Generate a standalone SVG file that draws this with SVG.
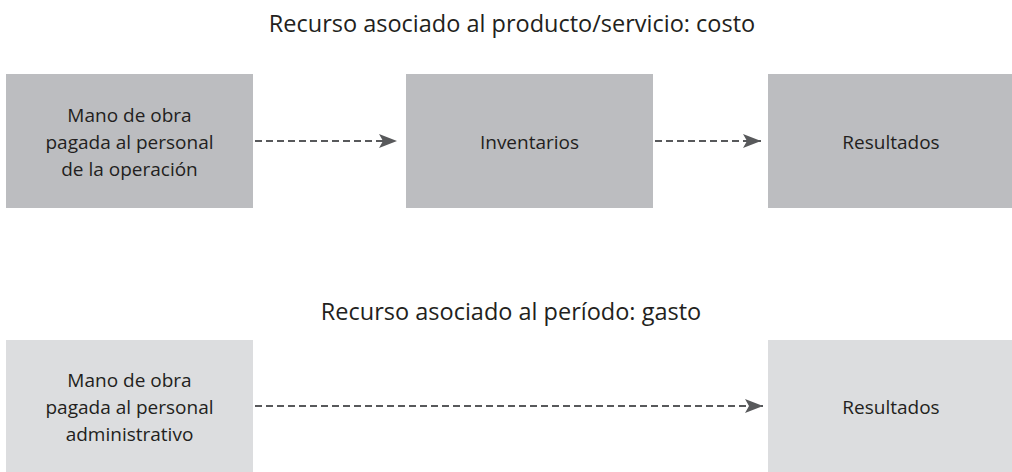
<svg xmlns="http://www.w3.org/2000/svg" width="1012" height="472" viewBox="0 0 1012 472">
  <style>
    .title { font-family: "Open Sans", "Noto Sans", sans-serif; font-size: 23.5px; fill: #231f20; text-anchor: middle; }
    .label { font-family: "Open Sans", "Noto Sans", sans-serif; font-size: 19px; fill: #231f20; text-anchor: middle; }
    .dark { fill: #bcbdc0; }
    .light { fill: #dcdddf; }
    .conn { stroke: #58595b; stroke-width: 2.2; stroke-dasharray: 7 4; fill: none; }
  </style>
  <defs>
    <marker id="arrow" markerWidth="18" markerHeight="14" refX="18" refY="7" orient="auto" markerUnits="userSpaceOnUse">
      <path d="M0,0 L18,7 L0,14 L4,7 Z" fill="#58595b"/>
    </marker>
  </defs>
  <rect width="1012" height="472" fill="#ffffff"/>

  <text class="title" x="512" y="32">Recurso asociado al producto/servicio: costo</text>
  <text class="title" x="511" y="320">Recurso asociado al período: gasto</text>

  <g id="node-mano-operacion">
    <rect class="dark" x="6" y="74" width="247" height="134"/>
    <text class="label" x="129.5" y="122">Mano de obra</text>
    <text class="label" x="129.5" y="149">pagada al personal</text>
    <text class="label" x="129.5" y="176">de la operación</text>
  </g>
  <g id="node-inventarios">
    <rect class="dark" x="406" y="74" width="247" height="134"/>
    <text class="label" x="529.5" y="149">Inventarios</text>
  </g>
  <g id="node-resultados-1">
    <rect class="dark" x="768" y="74" width="247" height="134"/>
    <text class="label" x="891" y="149">Resultados</text>
  </g>
  <g id="node-mano-administrativo">
    <rect class="light" x="6" y="340" width="247" height="134"/>
    <text class="label" x="129.5" y="387">Mano de obra</text>
    <text class="label" x="129.5" y="414">pagada al personal</text>
    <text class="label" x="129.5" y="441">administrativo</text>
  </g>
  <g id="node-resultados-2">
    <rect class="light" x="768" y="340" width="247" height="134"/>
    <text class="label" x="891" y="414">Resultados</text>
  </g>

  <g id="connectors">
    <line class="conn" x1="255" y1="141" x2="397" y2="141" marker-end="url(#arrow)"/>
    <line class="conn" x1="655" y1="141" x2="761" y2="141" marker-end="url(#arrow)"/>
    <line class="conn" x1="255" y1="406" x2="763" y2="406" marker-end="url(#arrow)"/>
  </g>
</svg>
